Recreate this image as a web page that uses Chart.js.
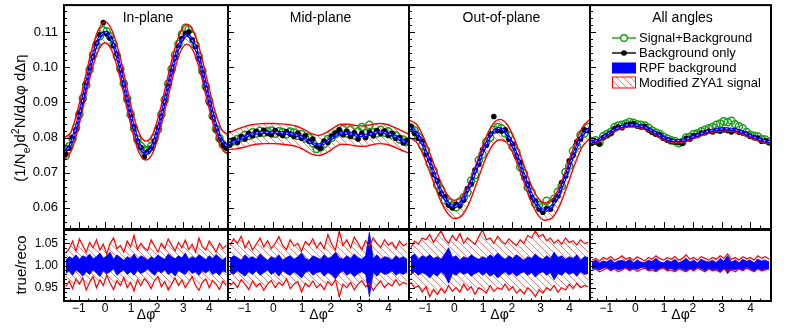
<!DOCTYPE html>
<html>
<head>
<meta charset="utf-8">
<script src="https://cdn.jsdelivr.net/npm/chart.js@4.4.1/dist/chart.umd.min.js"></script>
<style>
  html, body { margin: 0; padding: 0; background: #fff; }
  #wrap { position: relative; width: 788px; height: 328px; overflow: hidden; }
  #wrap canvas { position: absolute; left: 0; top: 0; }
</style>
</head>
<body>
<div id="wrap"></div>
<script>
// ---------- data ----------

const panelTitles = ["In-plane", "Mid-plane", "Out-of-plane", "All angles"];
const legendLabels = ["Signal+Background", "Background only", "RPF background", "Modified ZYA1 signal"];
const xTickValues = [-1, 0, 1, 2, 3, 4];
const yTickValues = [0.06, 0.07, 0.08, 0.09, 0.10, 0.11];
const ratioTickValues = [0.95, 1.00, 1.05];

// smooth curves are sampled every 15 degrees from -90 to 270
const curveDeg = [-90, -75, -60, -45, -30, -15, 0, 15, 30, 45, 60, 75, 90, 105, 120, 135, 150, 165, 180, 195, 210, 225, 240, 255, 270];

// RPF background fit
const rpfIn  = [0.0756, 0.0782, 0.0845, 0.0930, 0.1015, 0.1077, 0.1100, 0.1077, 0.1015, 0.0930, 0.0845, 0.0781, 0.0755, 0.0780, 0.0843, 0.0925, 0.1008, 0.1068, 0.1091, 0.1068, 0.1008, 0.0928, 0.0850, 0.0795, 0.0774];
const rpfMid = [0.0782, 0.0790, 0.0800, 0.0809, 0.0814, 0.0815, 0.0815, 0.0814, 0.0812, 0.0808, 0.0799, 0.0786, 0.0779, 0.0787, 0.0802, 0.0813, 0.0812, 0.0807, 0.0806, 0.0811, 0.0816, 0.0813, 0.0805, 0.0793, 0.0782];
const rpfOut = [0.0829, 0.0814, 0.0772, 0.0716, 0.0660, 0.0619, 0.0604, 0.0619, 0.0660, 0.0716, 0.0771, 0.0812, 0.0826, 0.0810, 0.0766, 0.0708, 0.0650, 0.0608, 0.0593, 0.0606, 0.0646, 0.0703, 0.0762, 0.0808, 0.0827];
const rpfAll = [0.0787, 0.0792, 0.0805, 0.0820, 0.0830, 0.0836, 0.0836, 0.0831, 0.0822, 0.0809, 0.0798, 0.0792, 0.0792, 0.0797, 0.0805, 0.0813, 0.0820, 0.0824, 0.0825, 0.0823, 0.0817, 0.0808, 0.0799, 0.0792, 0.0788];

// Modified ZYA1 signal band (upper / lower edge)
const zyaHiIn  = [0.0800, 0.0815, 0.0878, 0.0962, 0.1045, 0.1105, 0.1130, 0.1106, 0.1046, 0.0962, 0.0876, 0.0812, 0.0790, 0.0810, 0.0873, 0.0956, 0.1038, 0.1098, 0.1123, 0.1100, 0.1040, 0.0960, 0.0882, 0.0826, 0.0808];
const zyaLoIn  = [0.0737, 0.0760, 0.0820, 0.0903, 0.0986, 0.1047, 0.1070, 0.1047, 0.0986, 0.0902, 0.0818, 0.0757, 0.0736, 0.0757, 0.0817, 0.0896, 0.0978, 0.1043, 0.1066, 0.1043, 0.0982, 0.0902, 0.0826, 0.0772, 0.0752];
const zyaHiMid = [0.0812, 0.0822, 0.0830, 0.0836, 0.0839, 0.0840, 0.0840, 0.0839, 0.0837, 0.0833, 0.0824, 0.0812, 0.0806, 0.0814, 0.0828, 0.0838, 0.0838, 0.0834, 0.0833, 0.0837, 0.0840, 0.0838, 0.0830, 0.0820, 0.0810];
const zyaLoMid = [0.0766, 0.0768, 0.0772, 0.0778, 0.0782, 0.0783, 0.0783, 0.0782, 0.0779, 0.0775, 0.0766, 0.0754, 0.0749, 0.0756, 0.0770, 0.0781, 0.0780, 0.0776, 0.0775, 0.0779, 0.0783, 0.0781, 0.0774, 0.0764, 0.0756];
const zyaHiOut = [0.0850, 0.0838, 0.0798, 0.0742, 0.0685, 0.0640, 0.0622, 0.0632, 0.0672, 0.0730, 0.0790, 0.0835, 0.0852, 0.0838, 0.0795, 0.0736, 0.0676, 0.0632, 0.0614, 0.0624, 0.0662, 0.0720, 0.0782, 0.0830, 0.0852];
const zyaLoOut = [0.0800, 0.0787, 0.0745, 0.0688, 0.0630, 0.0588, 0.0570, 0.0578, 0.0615, 0.0672, 0.0732, 0.0776, 0.0794, 0.0785, 0.0745, 0.0688, 0.0628, 0.0583, 0.0565, 0.0572, 0.0608, 0.0664, 0.0725, 0.0775, 0.0798];
const zyaHiAll = [0.0788, 0.0793, 0.0806, 0.0821, 0.0831, 0.0837, 0.0837, 0.0832, 0.0823, 0.0810, 0.0799, 0.0793, 0.0793, 0.0798, 0.0806, 0.0814, 0.0821, 0.0825, 0.0826, 0.0824, 0.0818, 0.0809, 0.0800, 0.0793, 0.0789];
const zyaLoAll = [0.0782, 0.0786, 0.0799, 0.0814, 0.0824, 0.0830, 0.0830, 0.0825, 0.0816, 0.0803, 0.0792, 0.0786, 0.0786, 0.0791, 0.0799, 0.0807, 0.0814, 0.0818, 0.0819, 0.0817, 0.0811, 0.0802, 0.0793, 0.0786, 0.0782];

// 48 delta-phi bins per panel
const nBins = 48;

const sigBkgIn = [0.0748, 0.0775, 0.0797, 0.0828, 0.0866, 0.0912, 0.0950, 0.0993, 0.1036, 0.1064, 0.1089, 0.1105, 0.1102, 0.1088, 0.1066, 0.1032, 0.0996, 0.0954, 0.0910, 0.0866, 0.0826, 0.0795, 0.0776, 0.0762, 0.0765, 0.0776, 0.0798, 0.0823, 0.0866, 0.0908, 0.0953, 0.0995, 0.1035, 0.1066, 0.1094, 0.1112, 0.1108, 0.1090, 0.1063, 0.1030, 0.0990, 0.0946, 0.0905, 0.0862, 0.0825, 0.0798, 0.0780, 0.0768];
const bkgIn    = [0.0752, 0.0770, 0.0800, 0.0822, 0.0870, 0.0905, 0.0955, 0.0998, 0.1030, 0.1068, 0.1092, 0.1127, 0.1095, 0.1083, 0.1062, 0.1038, 0.0990, 0.0950, 0.0905, 0.0862, 0.0830, 0.0790, 0.0772, 0.0745, 0.0760, 0.0770, 0.0790, 0.0828, 0.0860, 0.0902, 0.0948, 0.0990, 0.1028, 0.1060, 0.1082, 0.1095, 0.1100, 0.1078, 0.1058, 0.1025, 0.0985, 0.0940, 0.0898, 0.0858, 0.0822, 0.0796, 0.0778, 0.0770];
const sigBkgMid = [0.0786, 0.0790, 0.0796, 0.0799, 0.0808, 0.0805, 0.0815, 0.0812, 0.0819, 0.0814, 0.0818, 0.0820, 0.0811, 0.0818, 0.0816, 0.0809, 0.0817, 0.0814, 0.0805, 0.0810, 0.0798, 0.0800, 0.0784, 0.0768, 0.0772, 0.0782, 0.0796, 0.0800, 0.0810, 0.0816, 0.0824, 0.0812, 0.0822, 0.0806, 0.0818, 0.0830, 0.0812, 0.0836, 0.0815, 0.0812, 0.0822, 0.0814, 0.0818, 0.0808, 0.0806, 0.0795, 0.0794, 0.0788];
const bkgMid    = [0.0779, 0.0794, 0.0786, 0.0803, 0.0796, 0.0812, 0.0805, 0.0818, 0.0810, 0.0821, 0.0812, 0.0808, 0.0820, 0.0812, 0.0806, 0.0817, 0.0810, 0.0803, 0.0812, 0.0798, 0.0806, 0.0790, 0.0796, 0.0776, 0.0770, 0.0790, 0.0786, 0.0804, 0.0812, 0.0822, 0.0808, 0.0818, 0.0803, 0.0814, 0.0796, 0.0812, 0.0800, 0.0816, 0.0805, 0.0820, 0.0811, 0.0819, 0.0806, 0.0812, 0.0798, 0.0800, 0.0785, 0.0792];
const sigBkgOut = [0.0828, 0.0820, 0.0802, 0.0778, 0.0764, 0.0726, 0.0706, 0.0665, 0.0652, 0.0622, 0.0616, 0.0607, 0.0602, 0.0618, 0.0630, 0.0644, 0.0678, 0.0694, 0.0736, 0.0752, 0.0788, 0.0800, 0.0822, 0.0830, 0.0826, 0.0812, 0.0806, 0.0774, 0.0758, 0.0716, 0.0698, 0.0658, 0.0644, 0.0612, 0.0608, 0.0602, 0.0620, 0.0610, 0.0626, 0.0646, 0.0662, 0.0702, 0.0720, 0.0762, 0.0776, 0.0808, 0.0812, 0.0830];
const bkgOut    = [0.0832, 0.0812, 0.0798, 0.0790, 0.0752, 0.0736, 0.0695, 0.0678, 0.0640, 0.0632, 0.0608, 0.0600, 0.0610, 0.0606, 0.0622, 0.0655, 0.0668, 0.0708, 0.0724, 0.0765, 0.0778, 0.0810, 0.0860, 0.0820, 0.0818, 0.0822, 0.0795, 0.0782, 0.0746, 0.0730, 0.0686, 0.0668, 0.0630, 0.0620, 0.0596, 0.0588, 0.0598, 0.0596, 0.0622, 0.0634, 0.0672, 0.0690, 0.0734, 0.0750, 0.0788, 0.0796, 0.0822, 0.0820];
const sigBkgAll = [0.0790, 0.0792, 0.0786, 0.0804, 0.0810, 0.0816, 0.0830, 0.0834, 0.0836, 0.0840, 0.0844, 0.0842, 0.0838, 0.0836, 0.0834, 0.0828, 0.0820, 0.0814, 0.0810, 0.0802, 0.0797, 0.0792, 0.0790, 0.0784, 0.0788, 0.0800, 0.0802, 0.0810, 0.0812, 0.0818, 0.0822, 0.0826, 0.0830, 0.0836, 0.0840, 0.0846, 0.0844, 0.0848, 0.0838, 0.0832, 0.0826, 0.0816, 0.0808, 0.0805, 0.0803, 0.0796, 0.0794, 0.0789];
const bkgAll    = [0.0785, 0.0788, 0.0782, 0.0800, 0.0806, 0.0812, 0.0826, 0.0830, 0.0828, 0.0836, 0.0838, 0.0840, 0.0833, 0.0830, 0.0832, 0.0822, 0.0815, 0.0810, 0.0808, 0.0798, 0.0794, 0.0790, 0.0788, 0.0786, 0.0784, 0.0798, 0.0796, 0.0806, 0.0806, 0.0813, 0.0814, 0.0818, 0.0816, 0.0820, 0.0818, 0.0822, 0.0820, 0.0816, 0.0820, 0.0815, 0.0813, 0.0810, 0.0804, 0.0800, 0.0799, 0.0790, 0.0791, 0.0786];

// true/reco ratios: RPF band (blue) and ZYA1 band (red), per bin
const ratioRpfHiIn  = [1.012, 1.020, 1.016, 1.024, 1.014, 1.022, 1.018, 1.026, 1.015, 1.020, 1.028, 1.016, 1.022, 1.030, 1.014, 1.024, 1.018, 1.012, 1.020, 1.016, 1.026, 1.014, 1.022, 1.018, 1.012, 1.020, 1.015, 1.024, 1.018, 1.014, 1.026, 1.020, 1.015, 1.022, 1.017, 1.028, 1.014, 1.020, 1.016, 1.024, 1.019, 1.013, 1.022, 1.016, 1.025, 1.018, 1.012, 1.020];
const ratioRpfLoIn  = [0.982, 0.988, 0.978, 0.990, 0.984, 0.976, 0.986, 0.980, 0.990, 0.983, 0.975, 0.988, 0.981, 0.986, 0.992, 0.978, 0.985, 0.990, 0.980, 0.986, 0.978, 0.989, 0.982, 0.986, 0.992, 0.984, 0.978, 0.988, 0.983, 0.990, 0.980, 0.985, 0.976, 0.988, 0.984, 0.980, 0.990, 0.982, 0.986, 0.978, 0.988, 0.983, 0.990, 0.980, 0.985, 0.978, 0.988, 0.984];
const ratioZyaHiIn  = [1.028, 1.038, 1.055, 1.032, 1.060, 1.045, 1.030, 1.052, 1.040, 1.058, 1.035, 1.048, 1.026, 1.050, 1.062, 1.038, 1.045, 1.030, 1.055, 1.042, 1.068, 1.036, 1.050, 1.040, 1.034, 1.058, 1.044, 1.030, 1.050, 1.038, 1.060, 1.046, 1.033, 1.052, 1.040, 1.057, 1.036, 1.048, 1.030, 1.062, 1.042, 1.035, 1.055, 1.044, 1.030, 1.050, 1.038, 1.046];
const ratioZyaLoIn  = [0.952, 0.965, 0.948, 0.970, 0.958, 0.972, 0.945, 0.962, 0.975, 0.950, 0.968, 0.955, 0.978, 0.960, 0.946, 0.966, 0.955, 0.973, 0.950, 0.962, 0.942, 0.968, 0.955, 0.970, 0.962, 0.948, 0.966, 0.975, 0.952, 0.964, 0.945, 0.958, 0.972, 0.955, 0.968, 0.950, 0.963, 0.975, 0.955, 0.944, 0.962, 0.970, 0.950, 0.966, 0.958, 0.946, 0.965, 0.955];
const ratioRpfHiMid = [1.015, 1.022, 1.018, 1.012, 1.024, 1.016, 1.020, 1.014, 1.026, 1.018, 1.012, 1.020, 1.016, 1.024, 1.012, 1.018, 1.022, 1.014, 1.020, 1.028, 1.016, 1.012, 1.022, 1.018, 1.014, 1.024, 1.016, 1.020, 1.030, 1.018, 1.014, 1.022, 1.016, 1.026, 1.018, 1.014, 1.022, 1.075, 1.016, 1.024, 1.014, 1.020, 1.018, 1.012, 1.022, 1.016, 1.020, 1.014];
const ratioRpfLoMid = [0.985, 0.980, 0.988, 0.982, 0.976, 0.986, 0.980, 0.988, 0.978, 0.984, 0.990, 0.980, 0.986, 0.976, 0.988, 0.982, 0.978, 0.986, 0.980, 0.972, 0.984, 0.988, 0.978, 0.984, 0.986, 0.976, 0.984, 0.980, 0.970, 0.982, 0.988, 0.978, 0.984, 0.975, 0.982, 0.986, 0.980, 0.930, 0.984, 0.976, 0.986, 0.980, 0.982, 0.988, 0.978, 0.984, 0.980, 0.986];
const ratioZyaHiMid = [1.045, 1.060, 1.050, 1.066, 1.040, 1.055, 1.035, 1.048, 1.062, 1.042, 1.056, 1.038, 1.050, 1.065, 1.045, 1.036, 1.058, 1.044, 1.050, 1.032, 1.054, 1.046, 1.060, 1.040, 1.052, 1.038, 1.070, 1.048, 1.035, 1.078, 1.045, 1.058, 1.040, 1.064, 1.050, 1.036, 1.056, 1.044, 1.062, 1.050, 1.040, 1.058, 1.046, 1.052, 1.038, 1.055, 1.044, 1.050];
const ratioZyaLoMid = [0.955, 0.962, 0.950, 0.968, 0.958, 0.946, 0.965, 0.952, 0.960, 0.944, 0.958, 0.966, 0.950, 0.962, 0.955, 0.970, 0.948, 0.958, 0.964, 0.940, 0.960, 0.952, 0.965, 0.950, 0.958, 0.946, 0.964, 0.955, 0.968, 0.930, 0.958, 0.950, 0.962, 0.945, 0.958, 0.966, 0.952, 0.960, 0.944, 0.956, 0.965, 0.950, 0.960, 0.954, 0.968, 0.955, 0.962, 0.958];
const ratioRpfHiOut = [1.020, 1.026, 1.014, 1.022, 1.018, 1.024, 1.016, 1.020, 1.014, 1.026, 1.040, 1.018, 1.022, 1.012, 1.020, 1.016, 1.024, 1.018, 1.014, 1.020, 1.016, 1.024, 1.018, 1.028, 1.020, 1.014, 1.022, 1.016, 1.024, 1.018, 1.012, 1.020, 1.016, 1.026, 1.018, 1.014, 1.022, 1.016, 1.030, 1.018, 1.022, 1.014, 1.020, 1.016, 1.024, 1.012, 1.020, 1.018];
const ratioRpfLoOut = [0.980, 0.986, 0.978, 0.984, 0.980, 0.972, 0.982, 0.976, 0.986, 0.978, 0.960, 0.982, 0.978, 0.986, 0.980, 0.984, 0.976, 0.982, 0.986, 0.978, 0.984, 0.976, 0.982, 0.972, 0.980, 0.986, 0.978, 0.984, 0.976, 0.982, 0.986, 0.978, 0.984, 0.974, 0.982, 0.986, 0.978, 0.984, 0.968, 0.982, 0.978, 0.986, 0.980, 0.984, 0.976, 0.986, 0.980, 0.982];
const ratioZyaHiOut = [1.040, 1.055, 1.048, 1.062, 1.058, 1.070, 1.052, 1.066, 1.078, 1.060, 1.050, 1.068, 1.056, 1.072, 1.050, 1.062, 1.055, 1.048, 1.065, 1.080, 1.058, 1.062, 1.050, 1.066, 1.056, 1.048, 1.060, 1.052, 1.045, 1.058, 1.050, 1.068, 1.062, 1.078, 1.065, 1.070, 1.056, 1.062, 1.050, 1.058, 1.048, 1.062, 1.052, 1.056, 1.046, 1.058, 1.050, 1.052];
const ratioZyaLoOut = [0.962, 0.950, 0.955, 0.940, 0.952, 0.930, 0.946, 0.935, 0.948, 0.938, 0.955, 0.942, 0.950, 0.940, 0.958, 0.944, 0.952, 0.935, 0.950, 0.945, 0.938, 0.955, 0.942, 0.950, 0.946, 0.958, 0.944, 0.952, 0.938, 0.946, 0.936, 0.950, 0.942, 0.930, 0.945, 0.938, 0.950, 0.944, 0.955, 0.940, 0.950, 0.945, 0.958, 0.948, 0.960, 0.950, 0.955, 0.952];
const ratioRpfHiAll = [1.008, 1.012, 1.006, 1.010, 1.008, 1.014, 1.006, 1.010, 1.012, 1.008, 1.014, 1.006, 1.012, 1.008, 1.006, 1.012, 1.009, 1.016, 1.008, 1.006, 1.012, 1.008, 1.014, 1.006, 1.010, 1.016, 1.008, 1.012, 1.006, 1.014, 1.010, 1.008, 1.012, 1.006, 1.016, 1.010, 1.022, 1.008, 1.012, 1.006, 1.014, 1.010, 1.012, 1.006, 1.014, 1.010, 1.012, 1.008];
const ratioRpfLoAll = [0.992, 0.994, 0.990, 0.994, 0.996, 0.990, 0.994, 0.990, 0.992, 0.996, 0.990, 0.994, 0.991, 0.995, 0.996, 0.990, 0.993, 0.988, 0.994, 0.996, 0.990, 0.994, 0.988, 0.994, 0.992, 0.988, 0.994, 0.990, 0.996, 0.992, 0.988, 0.994, 0.990, 0.992, 0.986, 0.994, 0.982, 0.992, 0.990, 0.994, 0.990, 0.996, 0.992, 0.988, 0.994, 0.990, 0.992, 0.994];
const ratioZyaHiAll = [1.012, 1.016, 1.010, 1.018, 1.014, 1.020, 1.012, 1.016, 1.022, 1.014, 1.018, 1.012, 1.020, 1.015, 1.010, 1.018, 1.014, 1.022, 1.016, 1.012, 1.018, 1.014, 1.020, 1.012, 1.016, 1.024, 1.014, 1.018, 1.012, 1.020, 1.016, 1.012, 1.018, 1.014, 1.022, 1.016, 1.026, 1.014, 1.018, 1.012, 1.020, 1.015, 1.018, 1.012, 1.022, 1.016, 1.020, 1.014];
const ratioZyaLoAll = [0.988, 0.992, 0.986, 0.990, 0.994, 0.988, 0.992, 0.986, 0.990, 0.994, 0.988, 0.992, 0.987, 0.991, 0.994, 0.988, 0.990, 0.986, 0.992, 0.994, 0.988, 0.990, 0.986, 0.992, 0.989, 0.986, 0.992, 0.988, 0.994, 0.990, 0.986, 0.992, 0.988, 0.990, 0.985, 0.992, 0.988, 0.990, 0.986, 0.992, 0.988, 0.994, 0.990, 0.986, 0.992, 0.988, 0.990, 0.992];

// ---------- layout / style ----------

const W = 788, H = 328;
const FONT = "'Liberation Sans', Arial, Helvetica, sans-serif";
const panelEdges = [64, 228, 409, 590, 771];
const topBox = [5, 229];
const ratioBox = [230, 301];
const phiMin = -Math.PI / 2, phiMax = 3 * Math.PI / 2;
const RED = "#ff0000", BLUE = "#0000ff", GREEN = "#1a9e1a";

const curvePhi = curveDeg.map((d) => (d * Math.PI) / 180);
const binPhi = Array.from({ length: nBins }, (_, i) => phiMin + ((i + 0.5) * (phiMax - phiMin)) / nBins);

const rpf = [rpfIn, rpfMid, rpfOut, rpfAll];
const zyaHi = [zyaHiIn, zyaHiMid, zyaHiOut, zyaHiAll];
const zyaLo = [zyaLoIn, zyaLoMid, zyaLoOut, zyaLoAll];
const sigBkg = [sigBkgIn, sigBkgMid, sigBkgOut, sigBkgAll];
const bkgOnly = [bkgIn, bkgMid, bkgOut, bkgAll];
const ratioRpfHi = [ratioRpfHiIn, ratioRpfHiMid, ratioRpfHiOut, ratioRpfHiAll];
const ratioRpfLo = [ratioRpfLoIn, ratioRpfLoMid, ratioRpfLoOut, ratioRpfLoAll];
const ratioZyaHi = [ratioZyaHiIn, ratioZyaHiMid, ratioZyaHiOut, ratioZyaHiAll];
const ratioZyaLo = [ratioZyaLoIn, ratioZyaLoMid, ratioZyaLoOut, ratioZyaLoAll];

const pts = (xs, ys) => xs.map((x, i) => ({ x, y: ys[i] }));
const font = (size) => `${size}px ${FONT}`;

function makeHatch() {
  const s = 7;
  const c = document.createElement("canvas");
  c.width = s;
  c.height = s;
  const g = c.getContext("2d");
  g.strokeStyle = "rgba(240,70,70,0.85)";
  g.lineWidth = 0.8;
  g.beginPath();
  g.moveTo(0, 0); g.lineTo(s, s);
  g.moveTo(-1, s - 1); g.lineTo(1, s + 1);
  g.moveTo(s - 1, -1); g.lineTo(s + 1, 1);
  g.stroke();
  return g.createPattern(c, "repeat");
}
const hatch = makeHatch();

function addCanvas() {
  const cv = document.createElement("canvas");
  cv.width = W;
  cv.height = H;
  cv.style.width = W + "px";
  cv.style.height = H + "px";
  document.getElementById("wrap").appendChild(cv);
  return cv;
}

function fmtPhi(v) {
  return v < 0 ? "\u2212" + Math.abs(v) : String(v);
}

// inward ROOT-style ticks plus a frame
function frameTicks(cfg) {
  return {
    id: "frameTicks",
    afterDraw(chart) {
      const { ctx, chartArea: a } = chart;
      const x = chart.scales.x, y = chart.scales.y;
      ctx.save();
      ctx.strokeStyle = "#000";
      ctx.lineWidth = 1;
      ctx.beginPath();
      for (let k = Math.ceil(phiMin * 3); k <= Math.floor(phiMax * 3); k++) {
        const px = Math.round(x.getPixelForValue(k / 3)) + 0.5;
        const len = k % 3 === 0 ? cfg.xMajor : cfg.xMinor;
        ctx.moveTo(px, a.bottom);
        ctx.lineTo(px, a.bottom - len);
      }
      for (let k = Math.ceil(y.min / cfg.yStep - 1e-6); k * cfg.yStep <= y.max; k++) {
        const py = Math.round(y.getPixelForValue(k * cfg.yStep)) + 0.5;
        const len = k % cfg.yEvery === 0 ? cfg.yMajor : cfg.yMinor;
        ctx.moveTo(a.left, py);
        ctx.lineTo(a.left + len, py);
      }
      ctx.stroke();
      ctx.lineWidth = 2;
      ctx.strokeRect(a.left, a.top, a.right - a.left, a.bottom - a.top);
      ctx.restore();
    }
  };
}

function drawRotatedRich(ctx, parts, cx, cy, size) {
  ctx.save();
  ctx.translate(cx, cy);
  ctx.rotate(-Math.PI / 2);
  ctx.fillStyle = "#000";
  ctx.textAlign = "left";
  ctx.textBaseline = "alphabetic";
  const sz = (p) => (p.s ? size * 0.7 : size);
  let total = 0;
  parts.forEach((p) => { ctx.font = font(sz(p)); total += ctx.measureText(p.t).width; });
  let x = -total / 2;
  parts.forEach((p) => {
    ctx.font = font(sz(p));
    const dy = p.s === "sub" ? size * 0.28 : p.s === "sup" ? -size * 0.42 : 0;
    ctx.fillText(p.t, x, size * 0.36 + dy);
    x += ctx.measureText(p.t).width;
  });
  ctx.restore();
}

function textPlugin(draw) {
  return { id: "texts", afterDraw(chart) { const ctx = chart.ctx; ctx.save(); draw(ctx, chart.chartArea); ctx.restore(); } };
}

// the axes get exactly the room between frame and canvas edge, so tick labels are not clipped
function baseOptions(p, box, yMin, yMax, yTicks, showX, showY, ySize) {
  const left = showY ? 0 : panelEdges[p];
  const bottom = showX ? 0 : H - box[1];
  return {
    responsive: false,
    animation: false,
    events: [],
    devicePixelRatio: 1,
    layout: { padding: { left, right: W - panelEdges[p + 1], top: box[0], bottom } },
    elements: { point: { radius: 0, hitRadius: 0, hoverRadius: 0 } },
    plugins: { legend: { display: false }, tooltip: { enabled: false }, filler: { drawTime: "beforeDatasetsDraw" } },
    scales: {
      x: {
        type: "linear", min: phiMin, max: phiMax,
        grid: { display: false, drawTicks: false }, border: { display: false },
        afterFit: (s) => {
          s.height = showX ? H - box[1] : 0;
          s.paddingLeft = 0; s.paddingRight = 0; s.paddingTop = 0; s.paddingBottom = 0;
        },
        afterBuildTicks: (s) => { s.ticks = xTickValues.map((v) => ({ value: v })); },
        ticks: { display: showX, padding: 0, maxRotation: 0, minRotation: 0, autoSkip: false, color: "#000", font: { family: FONT, size: 12 }, callback: (v) => fmtPhi(v) }
      },
      y: {
        type: "linear", min: yMin, max: yMax,
        grid: { display: false, drawTicks: false }, border: { display: false },
        afterFit: (s) => {
          s.width = showY ? panelEdges[p] : 0;
          s.paddingLeft = 0; s.paddingRight = 0; s.paddingTop = 0; s.paddingBottom = 0;
        },
        afterBuildTicks: (s) => { s.ticks = yTicks.map((v) => ({ value: v })); },
        ticks: { display: showY, padding: 6, autoSkip: false, color: "#000", font: { family: FONT, size: ySize }, callback: (v) => v.toFixed(2) }
      }
    }
  };
}

function legendDraw(ctx) {
  const x0 = 612, x1 = 636, tx = 639;
  const rows = [38, 53, 68, 82.5];
  ctx.font = font(13);
  ctx.fillStyle = "#000";
  ctx.textBaseline = "middle";
  ctx.textAlign = "left";
  legendLabels.forEach((t, i) => ctx.fillText(t, tx, rows[i] + 0.5));
  // signal+background
  ctx.strokeStyle = GREEN; ctx.lineWidth = 1.4;
  ctx.beginPath(); ctx.moveTo(x0, rows[0]); ctx.lineTo(x1, rows[0]); ctx.stroke();
  ctx.fillStyle = "#fff";
  ctx.beginPath(); ctx.arc((x0 + x1) / 2, rows[0], 3.3, 0, 2 * Math.PI); ctx.fill(); ctx.stroke();
  // background only
  ctx.strokeStyle = "#000";
  ctx.beginPath(); ctx.moveTo(x0, rows[1]); ctx.lineTo(x1, rows[1]); ctx.stroke();
  ctx.fillStyle = "#000";
  ctx.beginPath(); ctx.arc((x0 + x1) / 2, rows[1], 2.8, 0, 2 * Math.PI); ctx.fill();
  // RPF band
  ctx.fillStyle = BLUE;
  ctx.fillRect(x0, rows[2] - 5.5, x1 - x0, 11);
  // ZYA1 band
  ctx.fillStyle = hatch;
  ctx.fillRect(x0, rows[3] - 5.5, x1 - x0, 11);
  ctx.strokeStyle = RED; ctx.lineWidth = 1;
  ctx.strokeRect(x0 + 0.5, rows[3] - 5.5, x1 - x0 - 1, 11);
}

function topChart(p) {
  const opts = baseOptions(p, topBox, 0.054, 0.1177, yTickValues, false, p === 0, 13);
  const curve = { cubicInterpolationMode: "monotone", pointRadius: 0, clip: 0 };
  const data = {
    datasets: [
      { ...curve, data: pts(curvePhi, zyaHi[p]), borderColor: RED, borderWidth: 1.4, fill: "+1", backgroundColor: hatch, order: 4 },
      { ...curve, data: pts(curvePhi, zyaLo[p]), borderColor: RED, borderWidth: 1.4, fill: false, order: 3 },
      { data: pts(binPhi, sigBkg[p]), showLine: false, pointRadius: 3.6, pointBorderWidth: 1.5, pointBorderColor: GREEN, pointBackgroundColor: "rgba(0,0,0,0)", clip: 0, order: 6 },
      { data: pts(binPhi, bkgOnly[p]), showLine: false, pointRadius: 2.8, pointBorderWidth: 0, pointBackgroundColor: "#000", pointBorderColor: "#000", clip: 0, order: 5 },
      { ...curve, data: pts(curvePhi, rpf[p]), borderColor: BLUE, borderWidth: 3, fill: false, order: 2 },
      { ...curve, data: pts(curvePhi, rpf[p]), borderColor: "#fff", borderWidth: 0.8, borderDash: [2, 3], fill: false, order: 1 }
    ]
  };
  const plugins = [
    frameTicks({ xMajor: 7, xMinor: 3.5, yStep: 0.002, yEvery: 5, yMajor: 6, yMinor: 3 }),
    textPlugin((ctx, a) => {
      ctx.font = font(14);
      ctx.fillStyle = "#000";
      ctx.textAlign = "center";
      ctx.textBaseline = "middle";
      ctx.fillText(panelTitles[p], (a.left + a.right) / 2 + 2, 18);
      if (p === 0) {
        drawRotatedRich(ctx, [
          { t: "(1/N" }, { t: "e", s: "sub" }, { t: ")d" }, { t: "2", s: "sup" }, { t: "N/d\u0394\u03c6 d\u0394\u03b7" }
        ], 20, 118, 15);
      }
      if (p === 3) legendDraw(ctx);
    })
  ];
  new Chart(addCanvas(), { type: "line", data, options: opts, plugins });
}

function ratioChart(p) {
  const opts = baseOptions(p, ratioBox, 0.92, 1.08, ratioTickValues, true, p === 0, 12);
  const band = { tension: 0, pointRadius: 0, clip: 0 };
  const data = {
    datasets: [
      { ...band, data: pts(binPhi, ratioZyaHi[p]), borderColor: RED, borderWidth: 1.2, fill: "+1", backgroundColor: hatch, order: 4 },
      { ...band, data: pts(binPhi, ratioZyaLo[p]), borderColor: RED, borderWidth: 1.2, fill: false, order: 3 },
      { ...band, data: pts(binPhi, ratioRpfHi[p]), borderColor: BLUE, borderWidth: 0.8, fill: "+1", backgroundColor: BLUE, order: 2 },
      { ...band, data: pts(binPhi, ratioRpfLo[p]), borderColor: BLUE, borderWidth: 0.8, fill: false, order: 1 }
    ]
  };
  const plugins = [
    frameTicks({ xMajor: 5, xMinor: 2.5, yStep: 0.01, yEvery: 5, yMajor: 6, yMinor: 3 }),
    textPlugin((ctx, a) => {
      ctx.font = font(14);
      ctx.fillStyle = "#000";
      ctx.textAlign = "center";
      ctx.textBaseline = "alphabetic";
      ctx.fillText("\u0394\u03c6", (a.left + a.right) / 2, a.bottom + 18);
      if (p === 0) drawRotatedRich(ctx, [{ t: "true/reco" }], 21, 265, 15);
    })
  ];
  new Chart(addCanvas(), { type: "line", data, options: opts, plugins });
}

for (let p = 0; p < 4; p++) {
  topChart(p);
  ratioChart(p);
}
</script>
</body>
</html>
